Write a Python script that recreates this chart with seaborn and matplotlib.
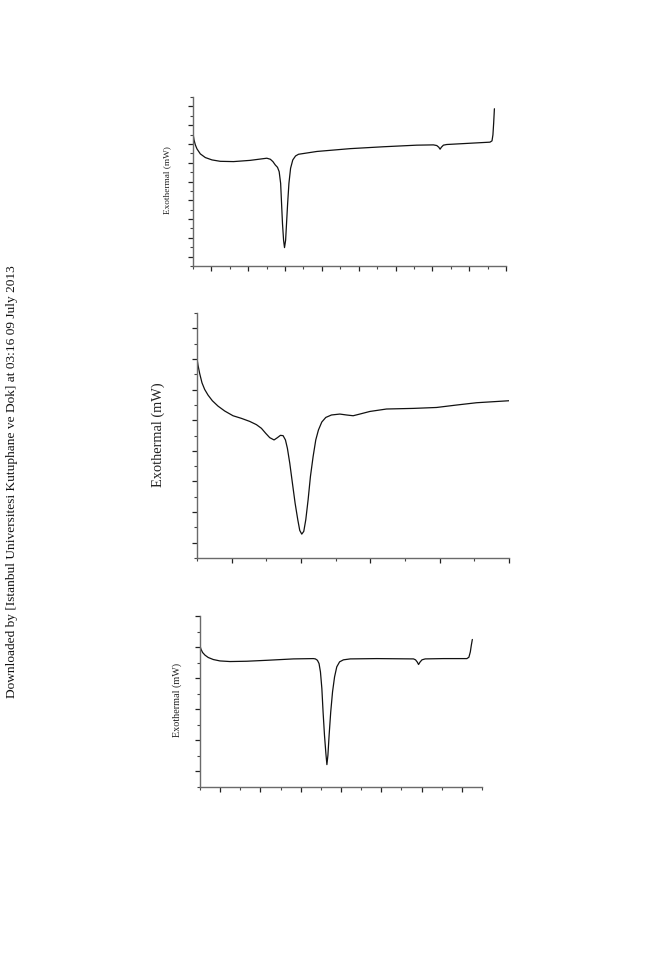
import matplotlib
matplotlib.use("Agg")
import matplotlib.pyplot as plt
from matplotlib.ticker import MultipleLocator, NullFormatter
import seaborn as sns
import pandas as pd

# ---- data (arbitrary units) ----
x1 = [0.0, 0.054, 0.127, 0.217, 0.398, 0.67, 1.03, 1.48, 2.2, 3.1, 4.01, 4.2, 4.34, 4.47, 4.59, 4.68,
      4.76, 4.81, 4.86, 4.92, 4.97, 5.03, 5.08, 5.14, 5.21, 5.30, 5.42, 5.57, 5.73, 6.73, 8.54,
      10.34, 12.15, 13.06, 13.24, 13.35, 13.42, 13.49, 13.6, 13.78, 16.13, 16.24, 16.29, 16.33, 16.37]
y1 = [14.15, 13.44, 12.9, 12.47, 11.94, 11.55, 11.3, 11.15, 11.12, 11.25, 11.48, 11.37, 11.12, 10.76,
      10.51, 10.05, 8.8, 6.66, 4.53, 2.74, 1.96, 2.74, 4.53, 6.66, 8.8, 10.41, 11.3, 11.72, 11.9,
      12.2, 12.5, 12.7, 12.87, 12.9, 12.83, 12.65, 12.44, 12.65, 12.87, 12.94, 13.19, 13.33, 13.97,
      15.22, 16.75]

x2 = [0.0, 0.029, 0.077, 0.144, 0.221, 0.318, 0.443, 0.606, 0.799, 1.039, 1.28, 1.521, 1.713, 1.858,
      1.983, 2.098, 2.223, 2.32, 2.406, 2.483, 2.551, 2.608, 2.676, 2.753, 2.83, 2.907, 2.964, 3.022,
      3.08, 3.138, 3.205, 3.272, 3.349, 3.426, 3.503, 3.6, 3.715, 3.879, 4.119, 4.312, 4.504, 4.697,
      4.986, 5.467, 6.237, 6.91, 7.488, 8.065, 9.0]
y2 = [13.03, 12.59, 12.05, 11.44, 11.01, 10.64, 10.27, 9.92, 9.6, 9.29, 9.12, 8.92, 8.71, 8.47, 8.14,
      7.86, 7.71, 7.86, 8.01, 7.99, 7.71, 7.16, 6.19, 4.88, 3.58, 2.5, 1.8, 1.56, 1.74, 2.5, 3.8,
      5.32, 6.62, 7.71, 8.36, 8.88, 9.18, 9.34, 9.4, 9.34, 9.29, 9.4, 9.57, 9.73, 9.77, 9.83, 9.99,
      10.14, 10.27]

x3 = [0.0, 0.05, 0.13, 0.25, 0.41, 0.66, 0.99, 1.49, 2.32, 3.31, 4.64, 5.63, 5.73, 5.83, 5.91, 5.98,
      6.05, 6.11, 6.18, 6.25, 6.3, 6.35, 6.41, 6.49, 6.58, 6.68, 6.79, 6.93, 7.12, 7.46, 8.78, 10.6,
      10.7, 10.79, 10.85, 10.92, 11.02, 11.18, 12.09, 13.25, 13.35, 13.42, 13.47, 13.52]
y3 = [9.08, 8.86, 8.65, 8.48, 8.33, 8.2, 8.11, 8.07, 8.09, 8.15, 8.24, 8.26, 8.24, 8.15, 7.94, 7.4,
      6.33, 4.83, 3.33, 2.15, 1.44, 2.04, 3.33, 4.83, 6.12, 7.08, 7.73, 8.05, 8.18, 8.24, 8.26, 8.24,
      8.18, 8.03, 7.88, 8.03, 8.18, 8.24, 8.26, 8.26, 8.35, 8.69, 9.12, 9.49]

ylabel_text = "Exothermal (mW)"
watermark = "Downloaded by [Istanbul Universitesi Kutuphane ve Dok] at 03:16 09 July 2013"

# (x max, y max) of each panel's axes in the same units
xlims = [17, 9, 14]
ylims = [18, 16, 11]

sns.set_theme(style="ticks")
plt.rcParams['font.family'] = ['Liberation Serif', 'DejaVu Serif']

fig = plt.figure(figsize=(6.72, 9.6), dpi=100)

rects = [
    [193 / 672, 1 - 266 / 960, 313 / 672, 169 / 960],
    [197 / 672, 1 - 558 / 960, 312 / 672, 245 / 960],
    [200 / 672, 1 - 787 / 960, 282 / 672, 171 / 960],
]
label_x = [-0.069, -0.103, -0.064]
label_y = [0.51, 0.502, 0.509]
label_sizes = [6.7, 10.4, 7.3]
series = [(x1, y1), (x2, y2), (x3, y3)]

spine_col = "#6a6a6a"
for i, (rect, (xs, ys)) in enumerate(zip(rects, series)):
    ax = fig.add_axes(rect)
    df = pd.DataFrame({"x": xs, "y": ys})
    sns.lineplot(data=df, x="x", y="y", ax=ax, sort=False, estimator=None,
                 color="#111111", linewidth=0.9)
    ax.set_xlim(0, xlims[i])
    ax.set_ylim(0, ylims[i])
    for s in ["top", "right"]:
        ax.spines[s].set_visible(False)
    for s in ["left", "bottom"]:
        ax.spines[s].set_color(spine_col)
        ax.spines[s].set_linewidth(1.0)
    ax.xaxis.set_major_locator(MultipleLocator(2, offset=1))
    ax.xaxis.set_minor_locator(MultipleLocator(1))
    ax.yaxis.set_major_locator(MultipleLocator(2, offset=1))
    ax.yaxis.set_minor_locator(MultipleLocator(1))
    ax.xaxis.set_major_formatter(NullFormatter())
    ax.yaxis.set_major_formatter(NullFormatter())
    ax.tick_params(which="major", length=3.5, width=0.9, color="#222222", direction="out")
    ax.tick_params(which="minor", length=2.0, width=0.8, color="#444444", direction="out")
    ax.set_xlabel("")
    ax.set_ylabel(ylabel_text, fontsize=label_sizes[i], color="#222222")
    ax.yaxis.set_label_coords(label_x[i], label_y[i])
    ax.patch.set_alpha(0)

fig.text(12 / 672, 1 - 482 / 960, watermark, rotation=90, ha="center", va="center",
         fontsize=9.6, color="#111111")

fig.savefig("out.png", dpi=100, facecolor="white")
